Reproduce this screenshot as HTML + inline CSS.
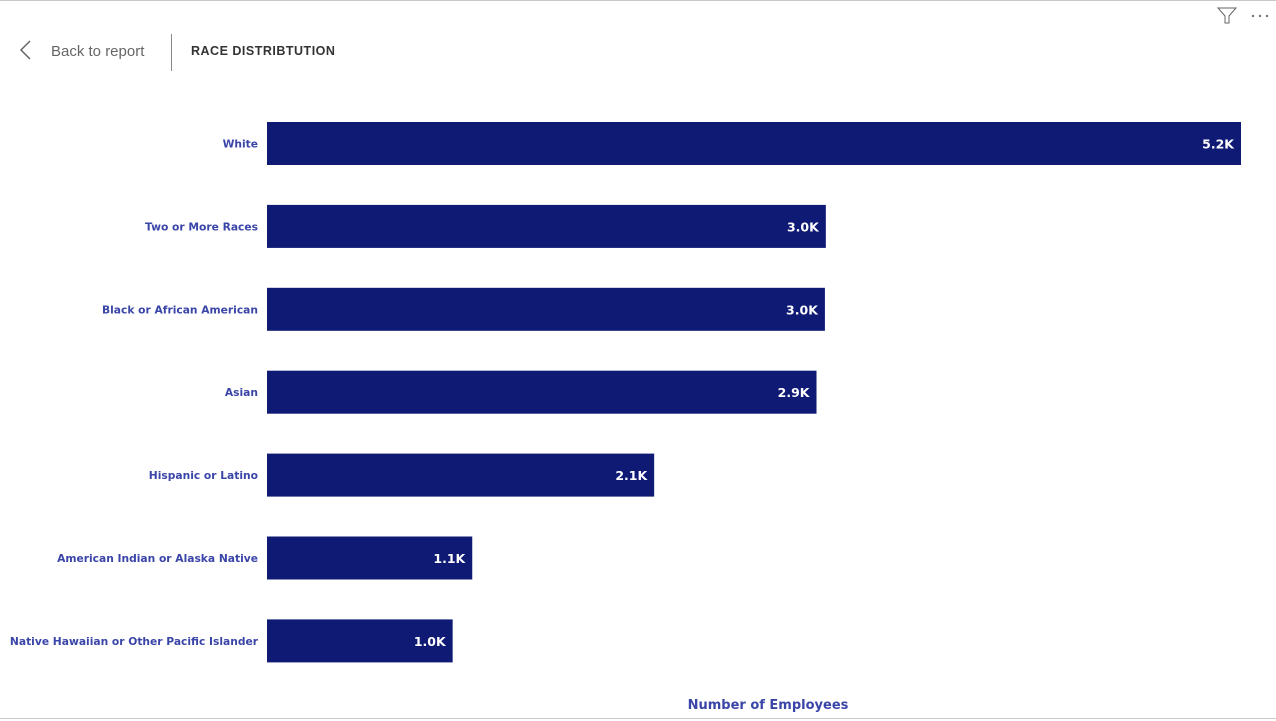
<!DOCTYPE html>
<html><head><meta charset="utf-8"><style>
body{margin:0;width:1276px;height:721px;background:#fff;overflow:hidden;font-family:"Liberation Sans",sans-serif;position:relative}
.top{position:absolute;left:0;top:0;width:1276px;height:1px;background:#c8c8c8}
.bot{position:absolute;left:0;top:718px;width:1276px;height:1px;background:#c8c8c8}
</style></head><body>
<div class="top"></div>
<div class="bot"></div>
<svg width="1276" height="721" style="position:absolute;left:0;top:0">
<g>
<polyline points="30,41 21,50 30,59" fill="none" stroke="#666" stroke-width="1.5"/>
<text x="51" y="56" font-size="15" fill="#666">Back to report</text></g>
<line x1="171.5" y1="34" x2="171.5" y2="71" stroke="#888"/>
<text x="191" y="55" font-size="12.5" font-weight="bold" fill="#333" letter-spacing="0.5">RACE DISTRIBTUTION</text>
<g><polygon points="1218,8 1236,8 1229,16 1229,23 1225,23 1225,16" fill="none" stroke="#666" stroke-width="1"/></g>
<g fill="#777"><circle cx="1253" cy="16" r="1.2"/><circle cx="1260" cy="16" r="1.2"/><circle cx="1267" cy="16" r="1.2"/></g>
<g id="bars"></g>
<text x="768" y="709" font-size="13" font-weight="bold" fill="#3a45a8" text-anchor="middle" font-family="DejaVu Sans, sans-serif">Number of Employees</text>
</svg>
<script>
const categories=["White","Two or More Races","Black or African American","Asian","Hispanic or Latino","American Indian or Alaska Native","Native Hawaiian or Other Pacific Islander"];
const values=[5220,2995,2990,2945,2075,1100,995];
const labels=["5.2K","3.0K","3.0K","2.9K","2.1K","1.1K","1.0K"];
const x0=267,x1=1241,maxV=5220,y0=122,step=82.9,bh=43;
const xs=v=>x0+v/maxV*(x1-x0);
const ys=i=>y0+i*step;
const g=document.getElementById('bars');
const NS="http://www.w3.org/2000/svg";
categories.forEach((c,i)=>{
 const r=document.createElementNS(NS,'rect');
 r.setAttribute('x',x0);r.setAttribute('y',ys(i));r.setAttribute('width',xs(values[i])-x0);r.setAttribute('height',bh);r.setAttribute('fill','#0f1a75');
 
 
 g.appendChild(r);
 const t=document.createElementNS(NS,'text');
 t.setAttribute('x',258);t.setAttribute('y',ys(i)+bh/2+4);t.setAttribute('text-anchor','end');t.setAttribute('font-size','10.7');t.setAttribute('font-weight','bold');t.setAttribute('fill','#3a45a8');t.setAttribute('font-family','DejaVu Sans, sans-serif');t.textContent=c;
 
 
 g.appendChild(t);
 const l=document.createElementNS(NS,'text');
 l.setAttribute('x',xs(values[i])-7);l.setAttribute('y',ys(i)+bh/2+5);l.setAttribute('text-anchor','end');l.setAttribute('font-size','12.5');l.setAttribute('font-weight','bold');l.setAttribute('fill','#fff');l.setAttribute('font-family','DejaVu Sans, sans-serif');l.textContent=labels[i];
 
 
 g.appendChild(l);
});
</script>
</body></html>
